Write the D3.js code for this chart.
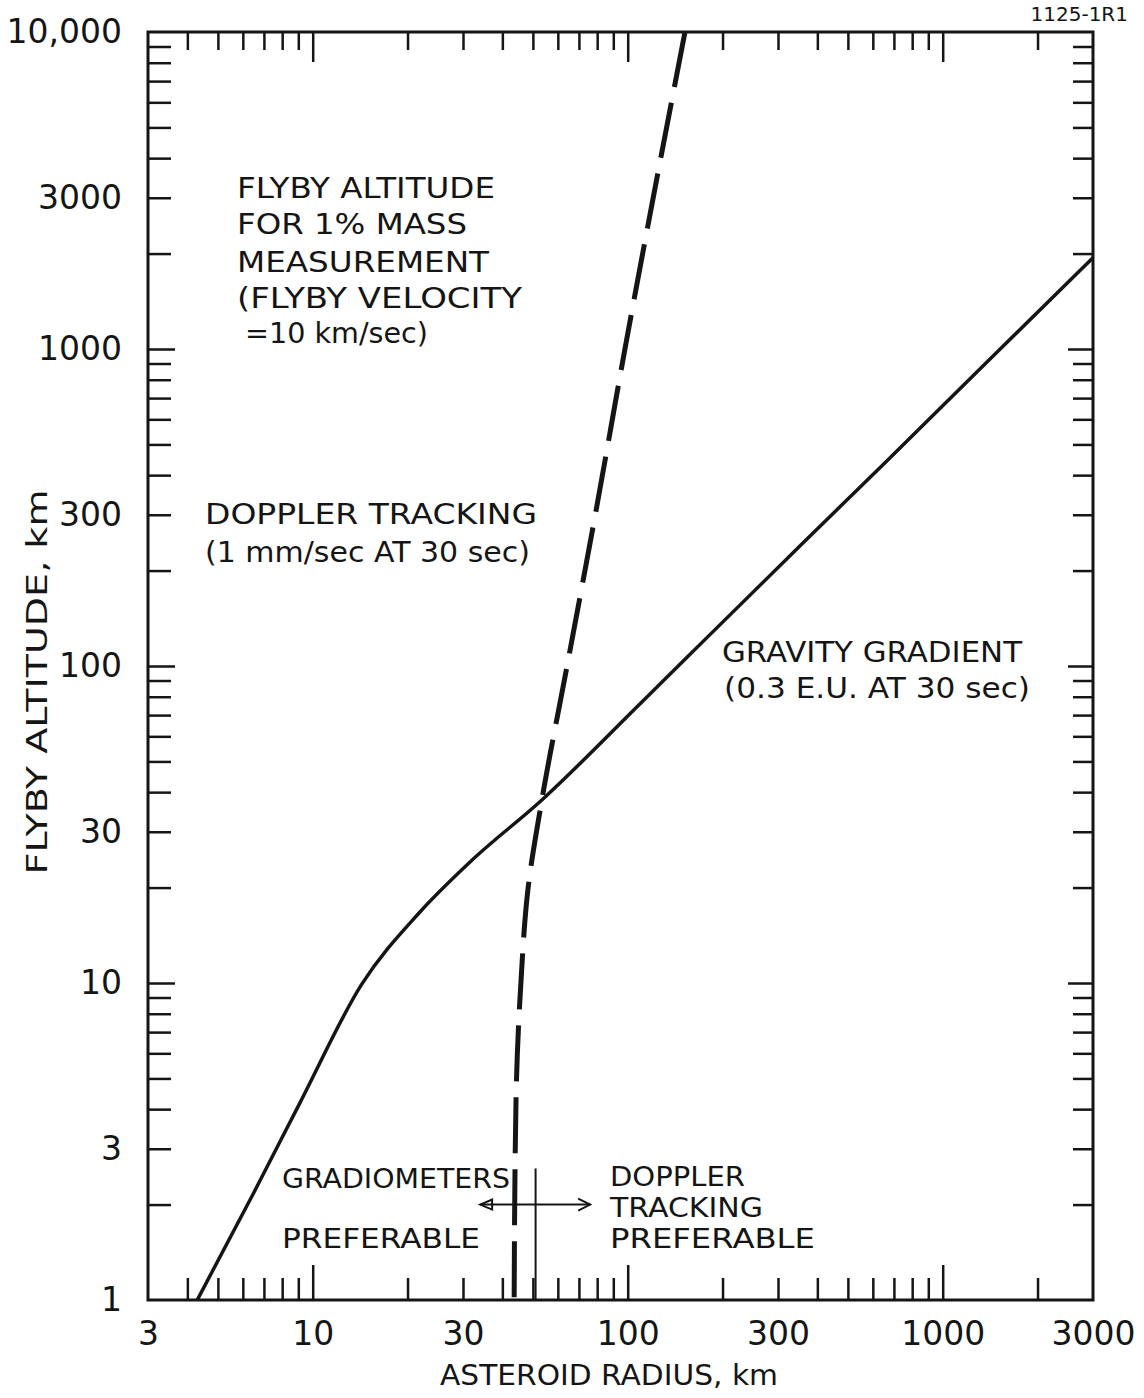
<!DOCTYPE html>
<meta charset="utf-8">
<title>Flyby altitude for 1% mass measurement</title>
<script src="https://d3js.org/d3.v7.min.js"></script>
<style>
  body { margin: 0; background: #fff; }
  svg text { font-family: "DejaVu Sans", sans-serif; fill: #151515; }
  .tick line { stroke: #151515; stroke-width: 2.5; }
  .domain { display: none; }
</style>
<svg width="1144" height="1398"></svg>
<script>
// gravity gradient (0.3 E.U. at 30 sec) - solid curve
var gradRadius   = [4.3, 6.5, 9.1, 14.3, 21.9, 31.6, 53.4, 109.5, 189, 352, 656, 1362, 3000];
var gradAltitude = [1, 2.18, 4.18, 9.9, 16.75, 24.1, 37.8, 76, 130, 239, 438, 897, 1940];

// doppler tracking (1 mm/sec at 30 sec) - dashed curve
var dopRadius   = [152, 98, 78.9, 64.2, 53.4, 48.3, 45.8, 44.2, 43.6];
var dopAltitude = [10000, 1000, 300, 100, 37.8, 20, 10, 4.27, 1];

// tick labels
var xTickLabels = [3, 10, 30, 100, 300, 1000, 3000];
var yTickLabels = [1, 3, 10, 30, 100, 300, 1000, 3000, 10000];

// crossover marker + arrow
var crossoverRadius = 51;
var crossoverTop = 2.6;
var arrowSpan = [34, 76];
var arrowAltitude = 2;

var svg = d3.select("svg");

var x = d3.scaleLog().domain([3, 3000]).range([148, 1093]);
var y = d3.scaleLog().domain([1, 10000]).range([1300, 32]);

var isDecade = function(v) { return Math.abs(Math.log10(v) - Math.round(Math.log10(v))) < 1e-9; };

var xMinor = x.ticks().filter(function(v) { return v > 3 && v < 3000 && !isDecade(v); });
var xMajor = x.ticks().filter(function(v) { return v > 3 && v < 3000 && isDecade(v); });
var yMinor = y.ticks().filter(function(v) { return v > 1 && v < 10000 && !isDecade(v); });
var yMajor = y.ticks().filter(function(v) { return v > 1 && v < 10000 && isDecade(v); });

// inward ticks on all four sides
function tickGroup(axis, tx, ty) {
    svg.append("g")
        .attr("transform", "translate(" + tx + "," + ty + ")")
        .call(axis.tickFormat(""));
}
tickGroup(d3.axisBottom(x).tickValues(xMinor).tickSize(-22), 0, 1300);
tickGroup(d3.axisBottom(x).tickValues(xMajor).tickSize(-35), 0, 1300);
tickGroup(d3.axisTop(x).tickValues(xMinor).tickSize(-18), 0, 32);
tickGroup(d3.axisTop(x).tickValues(xMajor).tickSize(-30), 0, 32);
tickGroup(d3.axisLeft(y).tickValues(yMinor).tickSize(-23), 148, 0);
tickGroup(d3.axisLeft(y).tickValues(yMajor).tickSize(-27), 148, 0);
tickGroup(d3.axisRight(y).tickValues(yMinor).tickSize(-20), 1093, 0);
tickGroup(d3.axisRight(y).tickValues(yMajor).tickSize(-25), 1093, 0);

// frame
svg.append("rect")
    .attr("x", 148).attr("y", 32)
    .attr("width", 1093 - 148).attr("height", 1300 - 32)
    .attr("fill", "none")
    .attr("stroke", "#151515")
    .attr("stroke-width", 3);

// tick labels
var xLab = svg.append("g")
    .attr("transform", "translate(0,1300)")
    .call(d3.axisBottom(x).tickValues(xTickLabels).tickSize(0).tickPadding(22)
        .tickFormat(d3.format("d")));
xLab.selectAll("text").attr("font-size", 33);

var yLab = svg.append("g")
    .attr("transform", "translate(148,0)")
    .call(d3.axisLeft(y).tickValues(yTickLabels).tickSize(0).tickPadding(26)
        .tickFormat(function(d) { return d >= 10000 ? d3.format(",")(d) : d; }));
yLab.selectAll("text").attr("font-size", 33);

// curves
var gradData = gradRadius.map(function(r, i) { return {r: r, a: gradAltitude[i]}; });
var dopData = dopRadius.map(function(r, i) { return {r: r, a: dopAltitude[i]}; });

var line = function(curve) {
    return d3.line()
        .x(function(d) { return x(d.r); })
        .y(function(d) { return y(d.a); })
        .curve(curve);
};

svg.append("path")
    .datum(gradData)
    .attr("d", line(d3.curveMonotoneX))
    .attr("fill", "none")
    .attr("stroke", "#151515")
    .attr("stroke-width", 3.5);

svg.append("path")
    .datum(dopData)
    .attr("d", line(d3.curveMonotoneY))
    .attr("fill", "none")
    .attr("stroke", "#151515")
    .attr("stroke-width", 5)
    .attr("stroke-dasharray", "56,16");

// crossover line and double arrow
svg.append("line")
    .attr("x1", x(crossoverRadius)).attr("x2", x(crossoverRadius))
    .attr("y1", y(crossoverTop)).attr("y2", y(1))
    .attr("stroke", "#151515").attr("stroke-width", 2);

var ay = y(arrowAltitude), ax0 = x(arrowSpan[0]), ax1 = x(arrowSpan[1]);
svg.append("line")
    .attr("x1", ax0).attr("x2", ax1).attr("y1", ay).attr("y2", ay)
    .attr("stroke", "#151515").attr("stroke-width", 2);
svg.append("path")
    .attr("d", "M" + ax0 + "," + ay + "l12,-5l0,10z")
    .attr("fill", "none").attr("stroke", "#151515").attr("stroke-width", 2);
svg.append("path")
    .attr("d", "M" + (ax1 - 12) + "," + (ay - 6) + "L" + ax1 + "," + ay + "L" + (ax1 - 12) + "," + (ay + 6))
    .attr("fill", "none").attr("stroke", "#151515").attr("stroke-width", 2);

// annotations: [text, x, y, width, size]
var notes = [
    ["FLYBY ALTITUDE", 237, 188, 258, 29],
    ["FOR 1% MASS", 237, 224, 230, 29],
    ["MEASUREMENT", 237, 262, 252, 29],
    ["(FLYBY VELOCITY", 237, 298, 285, 29],
    ["=10 km/sec)", 245, 333, 183, 29],
    ["DOPPLER TRACKING", 205, 514, 332, 29],
    ["(1 mm/sec AT 30 sec)", 205, 552, 325, 29],
    ["GRAVITY GRADIENT", 722, 652, 300, 29],
    ["(0.3 E.U. AT 30 sec)", 724, 688, 306, 29],
    ["GRADIOMETERS", 282, 1178, 228, 27],
    ["PREFERABLE", 282, 1238, 198, 27],
    ["DOPPLER", 610, 1177, 135, 26],
    ["TRACKING", 610, 1208, 153, 26],
    ["PREFERABLE", 610, 1239, 205, 26]
];
svg.append("g").selectAll("text")
    .data(notes)
    .enter()
    .append("text")
    .attr("x", function(d) { return d[1]; })
    .attr("y", function(d) { return d[2]; })
    .attr("dominant-baseline", "central")
    .attr("font-size", function(d) { return d[4]; })
    .attr("textLength", function(d) { return d[3]; })
    .attr("lengthAdjust", "spacingAndGlyphs")
    .text(function(d) { return d[0]; });

// axis titles
svg.append("text")
    .attr("x", 609).attr("y", 1375)
    .attr("text-anchor", "middle")
    .attr("dominant-baseline", "central")
    .attr("font-size", 29)
    .attr("textLength", 338)
    .attr("lengthAdjust", "spacingAndGlyphs")
    .text("ASTEROID RADIUS, km");

svg.append("text")
    .attr("transform", "translate(37,682) rotate(-90)")
    .attr("text-anchor", "middle")
    .attr("dominant-baseline", "central")
    .attr("font-size", 29)
    .attr("textLength", 385)
    .attr("lengthAdjust", "spacingAndGlyphs")
    .text("FLYBY ALTITUDE, km");

svg.append("text")
    .attr("x", 1128).attr("y", 14)
    .attr("text-anchor", "end")
    .attr("dominant-baseline", "central")
    .attr("font-size", 20)
    .text("1125-1R1");
</script>
